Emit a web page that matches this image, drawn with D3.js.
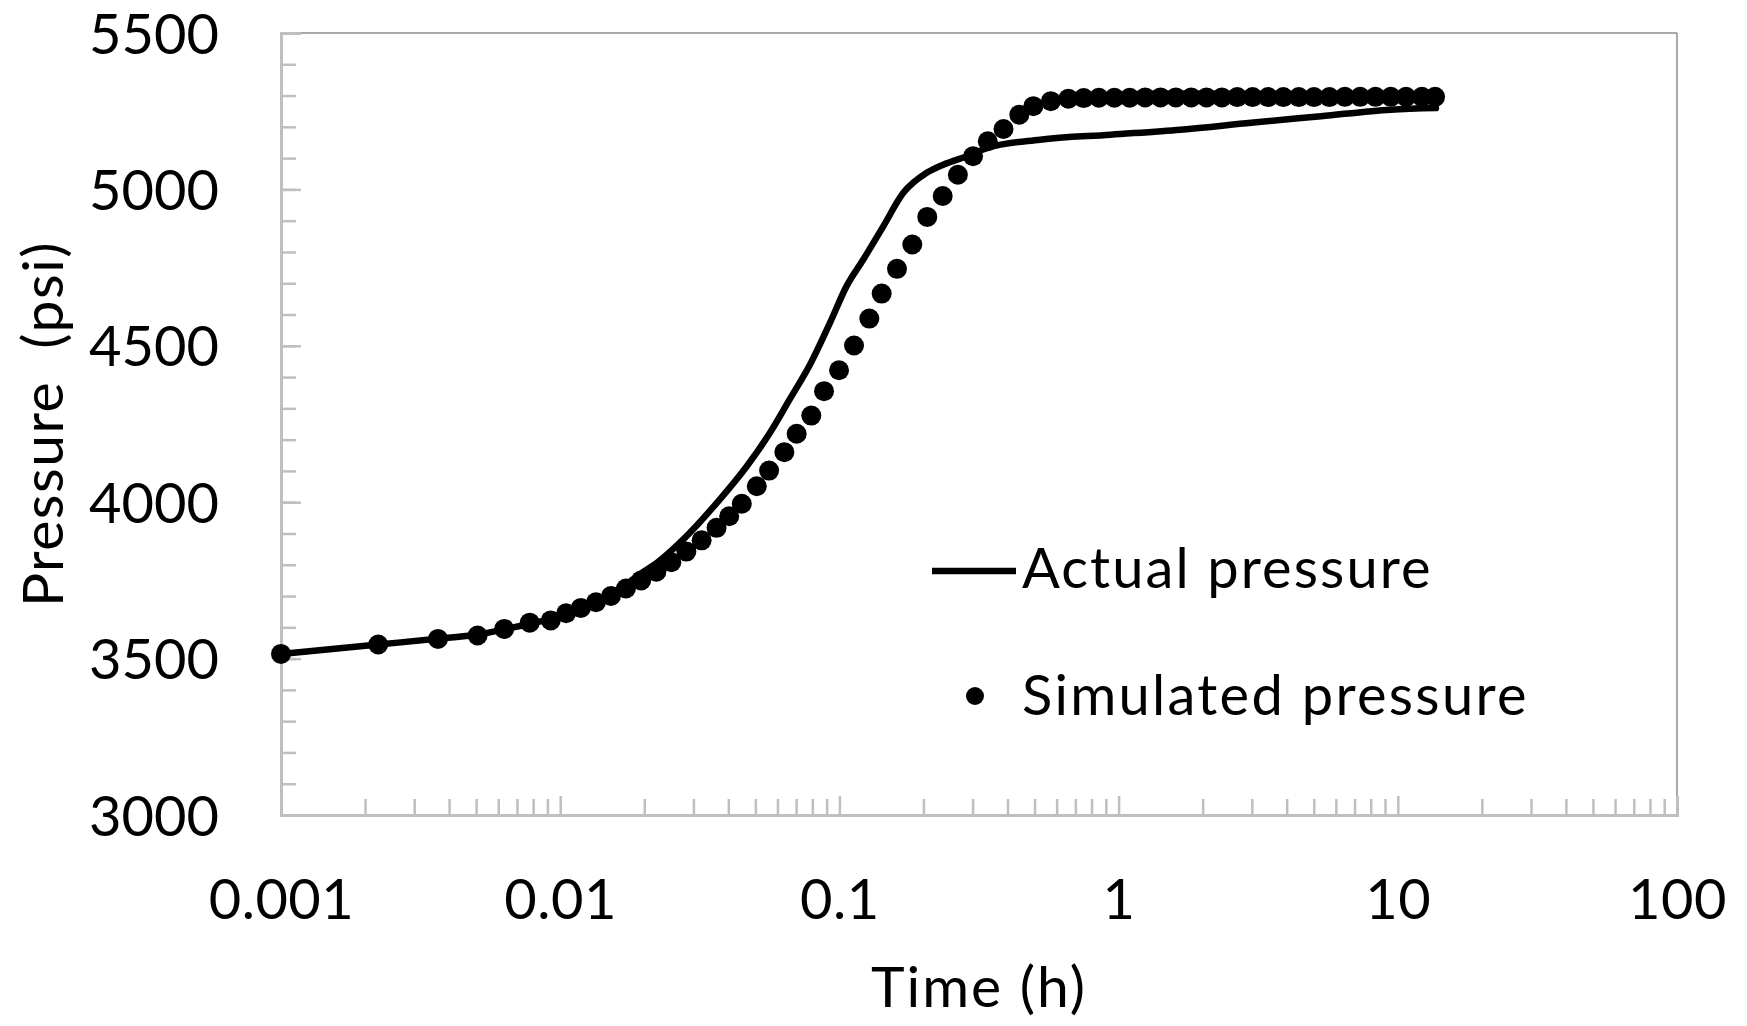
<!DOCTYPE html>
<html>
<head>
<meta charset="utf-8">
<script src="https://cdn.jsdelivr.net/npm/d3@7"></script>
<style>
  html, body { margin: 0; padding: 0; background: #fff; }
  svg { display: block; }
  text { font-family: Lato, "Open Sans", sans-serif; fill: #000; }
</style>
</head>
<body>
<svg id="chart" width="1747" height="1026"></svg>
<script>
// ---- data ----
const actualTime = [0.001, 0.00223, 0.0037, 0.005, 0.0065, 0.008, 0.00925, 0.0105, 0.012, 0.0135, 0.015, 0.0172, 0.0193, 0.0222, 0.0276, 0.0364, 0.0466, 0.0564, 0.0665, 0.0785, 0.0925, 0.106, 0.1218, 0.1436, 0.1694, 0.2054, 0.2355, 0.2857, 0.34, 0.523, 0.935, 1.67, 2.98, 5.31, 9.45, 13.7];
const actualPressure = [3515, 3545, 3564, 3576, 3596, 3614, 3626, 3642, 3662, 3682, 3705, 3737, 3770, 3806, 3881, 3998, 4115, 4222, 4330, 4440, 4573, 4690, 4776, 4882, 4989, 5053, 5079, 5106, 5133, 5159, 5175, 5191, 5213, 5234, 5255, 5260];

const simTime = [0.001, 0.00223, 0.00365, 0.00506, 0.0063, 0.00778, 0.00925, 0.0105, 0.01186, 0.01343, 0.0152, 0.0172, 0.0195, 0.0221, 0.025, 0.0283, 0.0321, 0.0363, 0.0403, 0.0447, 0.0506, 0.056, 0.0635, 0.0703, 0.0793, 0.0881, 0.0997, 0.1128, 0.128, 0.1417, 0.1608, 0.1824, 0.2064, 0.2344, 0.2657, 0.301, 0.34, 0.387, 0.441, 0.495, 0.572, 0.661, 0.75, 0.85, 0.966, 1.096, 1.245, 1.413, 1.603, 1.82, 2.065, 2.344, 2.66, 3.02, 3.43, 3.89, 4.42, 5.01, 5.69, 6.46, 7.33, 8.32, 9.44, 10.7, 12.2, 13.6];
const simPressure = [3515, 3545, 3563, 3574, 3595, 3615, 3622, 3645, 3662, 3680, 3700, 3724, 3750, 3778, 3808, 3842, 3878, 3918, 3955, 3995, 4051, 4101, 4160, 4219, 4277, 4355, 4422, 4501, 4587, 4667, 4746, 4824, 4912, 4979, 5047, 5106, 5154, 5193, 5239, 5266, 5282, 5290, 5292, 5293, 5293, 5293, 5294, 5294, 5294, 5294, 5294, 5294, 5295, 5295, 5295, 5295, 5295, 5295, 5295, 5296, 5296, 5296, 5296, 5296, 5296, 5296];

const xTicks = [0.001, 0.01, 0.1, 1, 10, 100];
const xTickLabels = ["0.001", "0.01", "0.1", "1", "10", "100"];
const yTicks = [3000, 3500, 4000, 4500, 5000, 5500];
const yMinorTicks = d3.range(3000, 5501, 100);
const seriesNames = ["Actual pressure", "Simulated pressure"];
const xTitle = "Time (h)";
const yTitle = "Pressure  (psi)";

// ---- layout ----
const L = 281, R = 1677, T = 33, B = 815;
const svg = d3.select("#chart");
const x = d3.scaleLog().domain([0.001, 100]).range([L, R]);
const y = d3.scaleLinear().domain([3000, 5500]).range([B, T]);
const axisColor = "#bfbfbf";
const FS = 56;

// minor x ticks 2..9 per decade
const xMinor = [];
for (let d = 0.001; d < 100; d *= 10) for (let k = 2; k <= 9; k++) xMinor.push(+(d * k).toPrecision(3));

// border top/right
svg.append("line").attr("x1", L).attr("x2", R).attr("y1", T).attr("y2", T)
  .attr("stroke", "#8c8c8c").attr("stroke-width", 1.5);
svg.append("line").attr("x1", R).attr("x2", R).attr("y1", T).attr("y2", B)
  .attr("stroke", "#8c8c8c").attr("stroke-width", 1.5);

// y axis
const gyMinor = svg.append("g").attr("transform", `translate(${L},0)`)
  .call(d3.axisLeft(y).tickValues(yMinorTicks).tickSize(-15).tickFormat(""));
const gy = svg.append("g").attr("transform", `translate(${L},0)`)
  .call(d3.axisLeft(y).tickValues(yTicks).tickSize(-20).tickPadding(62).tickFormat(d3.format("d")));
// x axis
const gxMinor = svg.append("g").attr("transform", `translate(0,${B})`)
  .call(d3.axisBottom(x).tickValues(xMinor).tickSize(-16).tickFormat(""));
const gx = svg.append("g").attr("transform", `translate(0,${B})`)
  .call(d3.axisBottom(x).tickValues(xTicks).tickSize(-19).tickPadding(64)
    .tickFormat((d, i) => xTickLabels[i]));

[gy, gyMinor, gx, gxMinor].forEach(g => {
  g.select(".domain").attr("stroke", axisColor).attr("stroke-width", 3);
  g.selectAll(".tick line").attr("stroke", axisColor).attr("stroke-width", 2.5);
  g.selectAll("text").style("font-size", FS + "px").attr("fill", "#000");
});
gyMinor.select(".domain").remove();
gxMinor.select(".domain").remove();
gy.selectAll("text").attr("dy", "0.36em");
gx.selectAll("text").attr("dy", "0.71em").style("letter-spacing", "0.5px");

// axis titles
svg.append("text").attr("x", (L + R) / 2).attr("y", 1007).attr("text-anchor", "middle")
  .style("font-size", "57px").style("letter-spacing", "2px").text(xTitle);
svg.append("text").attr("transform", `translate(63,${(T + B) / 2}) rotate(-90)`)
  .attr("text-anchor", "middle").style("font-size", "57px").style("white-space", "pre")
  .style("letter-spacing", "1.5px").text(yTitle);

// data
const actual = actualTime.map((t, i) => ({ t, p: actualPressure[i] }));
const sim = simTime.map((t, i) => ({ t, p: simPressure[i] }));

svg.append("path").datum(actual)
  .attr("d", d3.line().x(d => x(d.t)).y(d => y(d.p)).curve(d3.curveMonotoneX))
  .attr("fill", "none").attr("stroke", "#000").attr("stroke-width", 6.5)
  .attr("stroke-linejoin", "round").attr("stroke-linecap", "round");

svg.append("g").selectAll("circle").data(sim).join("circle")
  .attr("cx", d => x(d.t)).attr("cy", d => y(d.p)).attr("r", 10).attr("fill", "#000");

// legend
const lg = svg.append("g");
lg.append("line").attr("x1", 932).attr("x2", 1016).attr("y1", 571).attr("y2", 571)
  .attr("stroke", "#000").attr("stroke-width", 6.5);
lg.append("text").attr("x", 1022).attr("y", 588).style("font-size", FS + "px")
  .style("letter-spacing", "2.1px").text(seriesNames[0]);
lg.append("circle").attr("cx", 975).attr("cy", 696).attr("r", 9).attr("fill", "#000");
lg.append("text").attr("x", 1022).attr("y", 715).style("font-size", FS + "px")
  .style("letter-spacing", "2.3px").text(seriesNames[1]);
</script>
</body>
</html>
